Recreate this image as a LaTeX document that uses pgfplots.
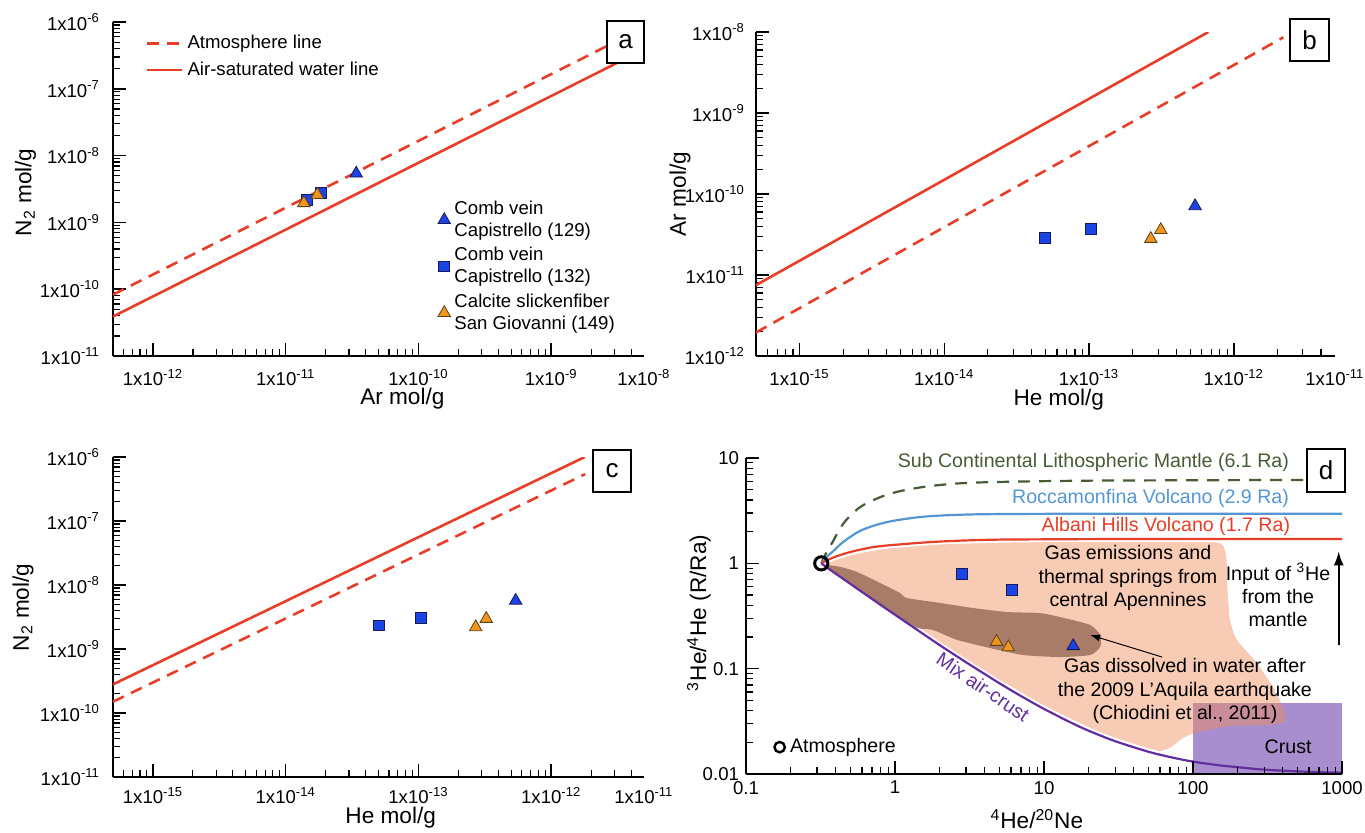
\documentclass[border=0pt]{standalone}
\usepackage{fontspec}
\setmainfont{Liberation Sans}
\usepackage{pgfplots}
\pgfplotsset{compat=1.18}
\usetikzlibrary{arrows.meta}

\definecolor{cred}{RGB}{232,62,40}
\definecolor{cblue}{RGB}{28,68,228}
\definecolor{cbluee}{RGB}{20,25,90}
\definecolor{corange}{RGB}{240,150,30}
\definecolor{corangee}{RGB}{95,65,20}
\definecolor{cgreen}{RGB}{70,92,52}
\definecolor{clblue}{RGB}{85,150,210}
\definecolor{cpurple}{RGB}{100,45,160}
\definecolor{cpeach}{RGB}{240,140,90}
\definecolor{cbrown}{RGB}{168,124,104}
\definecolor{ccrust}{RGB}{168,142,206}

\newcommand{\tfont}{\fontsize{9.3}{11}\selectfont}
\newcommand{\lfont}{\fontsize{11.3}{13}\selectfont}
\newcommand{\dfont}{\fontsize{9.8}{11.6}\selectfont}
\newcommand{\sci}[1]{1x10\textsuperscript{#1}}

\begin{document}
\begin{tikzpicture}
\useasboundingbox (0,0) rectangle (682.5pt,416pt);

% ---------------- panel a ----------------
\begin{axis}[xmode=log, ymode=log, scale only axis, anchor=south west,
  axis x line*=bottom, axis y line*=left,
  axis line style={-, line width=1.2pt, black},
  tick align=inside, major tick length=6.5pt, minor tick length=3.5pt,
  every major tick/.append style={line width=0.8pt, black},
  every minor tick/.append style={line width=0.6pt, black},
  tick label style={font=\tfont},
  xticklabel style={yshift=-3pt}, yticklabel style={xshift=-3pt},
  at={(56.5pt,238pt)}, width=265.5pt, height=167pt,
  xmin=5e-13, xmax=5e-9, ymin=1e-11, ymax=1e-6,
  xtick={1e-12,1e-11,1e-10,1e-9},
  xticklabels={\sci{-12},\sci{-11},\sci{-10},\sci{-9}},
  extra x ticks={4.99e-9}, extra x tick labels={\sci{-8}},
  extra x tick style={major tick length=0pt},
  minor xtick={6e-13,7e-13,8e-13,9e-13,2e-12,3e-12,4e-12,5e-12,6e-12,7e-12,8e-12,9e-12,2e-11,3e-11,4e-11,5e-11,6e-11,7e-11,8e-11,9e-11,2e-10,3e-10,4e-10,5e-10,6e-10,7e-10,8e-10,9e-10,2e-9,3e-9,4e-9},
  ytick={1e-11,1e-10,1e-9,1e-8,1e-7,1e-6},
  yticklabels={\sci{-11},\sci{-10},\sci{-9},\sci{-8},\sci{-7},\sci{-6}},
  minor ytick={2e-11,3e-11,4e-11,5e-11,6e-11,7e-11,8e-11,9e-11,2e-10,3e-10,4e-10,5e-10,6e-10,7e-10,8e-10,9e-10,2e-9,3e-9,4e-9,5e-9,6e-9,7e-9,8e-9,9e-9,2e-8,3e-8,4e-8,5e-8,6e-8,7e-8,8e-8,9e-8,2e-7,3e-7,4e-7,5e-7,6e-7,7e-7,8e-7,9e-7},
  xlabel={Ar mol/g}, ylabel={N\textsubscript{2} mol/g},
  xlabel style={font=\lfont, at={(rel axis cs:0.545,0)}, anchor=center, yshift=-21.5pt},
  ylabel style={font=\lfont, at={([xshift=-43.75pt]rel axis cs:0,0.49)}, anchor=center},
  legend style={at={(rel axis cs:0.05,0.985)}, anchor=north west, draw=none, fill=none, font=\tfont, row sep=1pt, cells={anchor=west}},
  legend image code/.code={\draw[#1] (0pt,0pt) -- (17.5pt,0pt);},
]
\addplot[cred, line width=1.3pt, dash pattern=on 6pt off 4pt] coordinates {(5e-13,8.3e-11) (5e-9,8.3e-7)};
\addlegendentry{Atmosphere line}
\addplot[cred, line width=1.3pt] coordinates {(5e-13,3.9e-11) (5e-9,3.9e-7)};
\addlegendentry{Air-saturated water line}
\addplot[only marks, mark=square*, mark size=2.7pt, mark options={fill=cblue, draw=cbluee, line width=0.4pt}, forget plot] coordinates {(1.44e-11,2.2e-9) (1.83e-11,2.8e-9)};
\addplot[only marks, mark=triangle*, mark size=3.6pt, mark options={fill=corange, draw=corangee, line width=0.4pt}, forget plot] coordinates {(1.37e-11,1.95e-9) (1.73e-11,2.6e-9)};
\addplot[only marks, mark=triangle*, mark size=3.6pt, mark options={fill=cblue, draw=cbluee, line width=0.4pt}, forget plot] coordinates {(3.4e-11,5.4e-9)};
\end{axis}

% marker legend of panel a
\begin{axis}[scale only axis, anchor=south west, at={(56.5pt,238pt)}, width=265.5pt, height=167pt,
  hide axis, xmin=0, xmax=1, ymin=0, ymax=1,
  legend style={at={(rel axis cs:0.6,0.49)}, anchor=north west, draw=none, fill=none, font=\tfont, row sep=0pt, cells={anchor=west, align=left}},
  legend image code/.code={\draw[#1] plot coordinates {(4pt,0pt)};},
]
\addlegendimage{only marks, mark=triangle*, mark size=3.6pt, mark options={fill=cblue, draw=cbluee, line width=0.4pt}}
\addlegendentry{Comb vein\\Capistrello (129)}
\addlegendimage{only marks, mark=square*, mark size=2.7pt, mark options={fill=cblue, draw=cbluee, line width=0.4pt}}
\addlegendentry{Comb vein\\Capistrello (132)}
\addlegendimage{only marks, mark=triangle*, mark size=3.6pt, mark options={fill=corange, draw=corangee, line width=0.4pt}}
\addlegendentry{Calcite slickenfiber\\San Giovanni (149)}
\end{axis}

% ---------------- panel b ----------------
\begin{axis}[xmode=log, ymode=log, scale only axis, anchor=south west,
  axis x line*=bottom, axis y line*=left,
  axis line style={-, line width=1.2pt, black},
  tick align=inside, major tick length=6.5pt, minor tick length=3.5pt,
  every major tick/.append style={line width=0.8pt, black},
  every minor tick/.append style={line width=0.6pt, black},
  tick label style={font=\tfont},
  xticklabel style={yshift=-3pt}, yticklabel style={xshift=-2pt},
  at={(378pt,238pt)}, width=289.5pt, height=162pt,
  xmin=5e-16, xmax=5e-12, ymin=1e-12, ymax=1e-8,
  xtick={1e-15,1e-14,1e-13,1e-12},
  xticklabels={\sci{-15},\sci{-14},\sci{-13},\sci{-12}},
  extra x ticks={4.99e-12}, extra x tick labels={\sci{-11}},
  extra x tick style={major tick length=0pt},
  minor xtick={6e-16,7e-16,8e-16,9e-16,2e-15,3e-15,4e-15,5e-15,6e-15,7e-15,8e-15,9e-15,2e-14,3e-14,4e-14,5e-14,6e-14,7e-14,8e-14,9e-14,2e-13,3e-13,4e-13,5e-13,6e-13,7e-13,8e-13,9e-13,2e-12,3e-12,4e-12},
  ytick={1e-12,1e-11,1e-10,1e-9,1e-8},
  yticklabels={\sci{-12},\sci{-11},\sci{-10},\sci{-9},\sci{-8}},
  minor ytick={2e-12,3e-12,4e-12,5e-12,6e-12,7e-12,8e-12,9e-12,2e-11,3e-11,4e-11,5e-11,6e-11,7e-11,8e-11,9e-11,2e-10,3e-10,4e-10,5e-10,6e-10,7e-10,8e-10,9e-10,2e-9,3e-9,4e-9,5e-9,6e-9,7e-9,8e-9,9e-9},
  xlabel={He mol/g}, ylabel={Ar mol/g},
  xlabel style={font=\lfont, at={(rel axis cs:0.523,0)}, anchor=center, yshift=-22pt},
  ylabel style={font=\lfont, at={([xshift=-38pt]rel axis cs:0,0.5)}, anchor=center},
]
\addplot[cred, line width=1.3pt] coordinates {(5e-16,7.5e-12) (6.67e-13,1e-8)};
\addplot[cred, line width=1.3pt, dash pattern=on 6pt off 4pt] coordinates {(5e-16,1.95e-12) (2.2e-12,8.6e-9)};
\addplot[only marks, mark=square*, mark size=2.7pt, mark options={fill=cblue, draw=cbluee, line width=0.4pt}] coordinates {(4.95e-14,2.9e-11) (1.03e-13,3.7e-11)};
\addplot[only marks, mark=triangle*, mark size=3.6pt, mark options={fill=corange, draw=corangee, line width=0.4pt}] coordinates {(2.67e-13,2.8e-11) (3.13e-13,3.6e-11)};
\addplot[only marks, mark=triangle*, mark size=3.6pt, mark options={fill=cblue, draw=cbluee, line width=0.4pt}] coordinates {(5.4e-13,7.1e-11)};
\end{axis}

% ---------------- panel c ----------------
\begin{axis}[xmode=log, ymode=log, scale only axis, anchor=south west,
  axis x line*=bottom, axis y line*=left,
  axis line style={-, line width=1.2pt, black},
  tick align=inside, major tick length=6.5pt, minor tick length=3.5pt,
  every major tick/.append style={line width=0.8pt, black},
  every minor tick/.append style={line width=0.6pt, black},
  tick label style={font=\tfont},
  xticklabel style={yshift=-1.5pt}, yticklabel style={xshift=-3pt},
  at={(56.5pt,27.5pt)}, width=265.5pt, height=160pt,
  xmin=5e-16, xmax=5e-12, ymin=1e-11, ymax=1e-6,
  xtick={1e-15,1e-14,1e-13,1e-12},
  xticklabels={\sci{-15},\sci{-14},\sci{-13},\sci{-12}},
  extra x ticks={4.99e-12}, extra x tick labels={\sci{-11}},
  extra x tick style={major tick length=0pt},
  minor xtick={6e-16,7e-16,8e-16,9e-16,2e-15,3e-15,4e-15,5e-15,6e-15,7e-15,8e-15,9e-15,2e-14,3e-14,4e-14,5e-14,6e-14,7e-14,8e-14,9e-14,2e-13,3e-13,4e-13,5e-13,6e-13,7e-13,8e-13,9e-13,2e-12,3e-12,4e-12},
  ytick={1e-11,1e-10,1e-9,1e-8,1e-7,1e-6},
  yticklabels={\sci{-11},\sci{-10},\sci{-9},\sci{-8},\sci{-7},\sci{-6}},
  minor ytick={2e-11,3e-11,4e-11,5e-11,6e-11,7e-11,8e-11,9e-11,2e-10,3e-10,4e-10,5e-10,6e-10,7e-10,8e-10,9e-10,2e-9,3e-9,4e-9,5e-9,6e-9,7e-9,8e-9,9e-9,2e-8,3e-8,4e-8,5e-8,6e-8,7e-8,8e-8,9e-8,2e-7,3e-7,4e-7,5e-7,6e-7,7e-7,8e-7,9e-7},
  xlabel={He mol/g}, ylabel={N\textsubscript{2} mol/g},
  xlabel style={font=\lfont, at={(rel axis cs:0.523,0)}, anchor=center, yshift=-20.5pt},
  ylabel style={font=\lfont, at={([xshift=-45pt]rel axis cs:0,0.53)}, anchor=center},
]
\addplot[cred, line width=1.3pt] coordinates {(5e-16,2.8e-10) (1.79e-12,1e-6)};
\addplot[cred, line width=1.3pt, dash pattern=on 6pt off 4pt] coordinates {(5e-16,1.5e-10) (1.8e-12,5.4e-7)};
\addplot[only marks, mark=square*, mark size=2.7pt, mark options={fill=cblue, draw=cbluee, line width=0.4pt}] coordinates {(5.04e-14,2.34e-9) (1.04e-13,3.1e-9)};
\addplot[only marks, mark=triangle*, mark size=3.6pt, mark options={fill=corange, draw=corangee, line width=0.4pt}] coordinates {(2.7e-13,2.2e-9) (3.24e-13,2.97e-9)};
\addplot[only marks, mark=triangle*, mark size=3.6pt, mark options={fill=cblue, draw=cbluee, line width=0.4pt}] coordinates {(5.4e-13,5.7e-9)};
\end{axis}

% ---------------- panel d ----------------
\begin{axis}[xmode=log, ymode=log, scale only axis, anchor=south west,
  axis x line*=bottom, axis y line*=left,
  axis line style={-, line width=1.2pt, black},
  tick align=inside, major tick length=6.5pt, minor tick length=3.5pt,
  every major tick/.append style={line width=0.8pt, black},
  every minor tick/.append style={line width=0.6pt, black},
  tick label style={font=\tfont},
  axis on top, clip=false, at={(373pt,29pt)}, width=298pt, height=158pt,
  xmin=0.1, xmax=1000, ymin=0.01, ymax=10,
  xtick={0.1,1,10,100,1000}, xticklabels={0.1,1,10,100,1000},
  minor xtick={0.2,0.3,0.4,0.5,0.6,0.7,0.8,0.9,2,3,4,5,6,7,8,9,20,30,40,50,60,70,80,90,200,300,400,500,600,700,800,900},
  ytick={0.01,0.1,1,10}, yticklabels={0.01,0.1,1,10},
  minor ytick={0.02,0.03,0.04,0.05,0.06,0.07,0.08,0.09,0.2,0.3,0.4,0.5,0.6,0.7,0.8,0.9,2,3,4,5,6,7,8,9},
  xlabel={\textsuperscript{4}He/\textsuperscript{20}Ne},
  ylabel={\textsuperscript{3}He/\textsuperscript{4}He (R/Ra)},
  xlabel style={font=\lfont, at={(rel axis cs:0.488,0)}, anchor=center, yshift=-22.5pt},
  ylabel style={font=\lfont, at={([xshift=-23.5pt]rel axis cs:0,0.51)}, anchor=center},
  legend style={at={(rel axis cs:0.035,0.085)}, anchor=west, draw=none, fill=none, font=\dfont},
  legend image code/.code={\draw[black, line width=1.2pt] (3pt,0pt) circle (2.6pt);},
]
\addplot[fill=ccrust, draw=none, forget plot] coordinates {(100,0.01) (1000,0.01) (1000,0.047) (100,0.047)};
\addplot[fill=cpeach, fill opacity=0.45, draw=none, smooth, tension=0.3, forget plot] coordinates {
 (0.34,0.97) (0.4,1.07) (0.5,1.19) (0.7,1.31) (1,1.40) (2,1.51) (5,1.57) (10,1.59) (40,1.6) (140,1.58)
 (160,1.45) (168,1.1) (170,0.6) (177,0.29) (197,0.187) (269,0.113) (344,0.067) (402,0.043) (414,0.031)
 (300,0.029) (177,0.0286) (103,0.0245) (86,0.022) (70,0.0177) (60,0.0165)
 (50,0.0176) (30,0.0221) (20,0.0278) (10,0.0448) (5,0.079) (3,0.124) (2,0.18) (1.4,0.255) (1,0.35)
 (0.7,0.50) (0.5,0.69) (0.4,0.86) (0.34,0.97)};
\addplot[fill=cbrown, draw=none, smooth, tension=0.4, forget plot] coordinates {
 (0.34,0.97) (0.43,0.925) (0.556,0.828) (0.793,0.652) (1.08,0.523) (1.2,0.469) (2.0,0.421) (3.33,0.377)
 (5.65,0.345) (9.4,0.337) (13.6,0.303) (20.4,0.26) (23.8,0.209) (23.8,0.161) (20.4,0.135) (12.8,0.129)
 (7.2,0.135) (4.35,0.157) (2.6,0.188) (1.8,0.233) (1.4,0.245) (1.0,0.33) (0.7,0.465) (0.5,0.645)
 (0.4,0.80) (0.34,0.93)};
\addplot[cgreen, line width=1.1pt, dash pattern=on 6pt off 4.5pt, smooth, forget plot] coordinates {
 (0.32,1.0) (0.335,1.15) (0.355,1.35) (0.384,1.62) (0.42,2.05) (0.461,2.49) (0.51,2.9) (0.57,3.34)
 (0.64,3.7) (0.72,4.0) (0.85,4.4) (1.05,4.8) (1.3,5.1) (1.61,5.35) (2.1,5.58) (2.77,5.76) (4,5.88)
 (6.6,5.97) (10,6.03) (22,6.1) (100,6.15) (1000,6.2)};
\addplot[clblue, line width=1.1pt, smooth, forget plot] coordinates {
 (0.32,1.0) (0.35,1.16) (0.384,1.3) (0.45,1.6) (0.57,2.0) (0.7,2.25) (0.82,2.4) (1.0,2.55) (1.43,2.74)
 (2,2.84) (3.55,2.92) (10,2.95) (100,2.96) (1000,2.96)};
\addplot[cred, line width=1.1pt, smooth, forget plot] coordinates {
 (0.32,1.0) (0.35,1.07) (0.4,1.16) (0.5,1.28) (0.6,1.36) (0.7,1.42) (0.85,1.47) (1,1.5) (1.5,1.57)
 (2,1.61) (3,1.65) (5,1.68) (10,1.69) (30,1.7) (1000,1.7)};
\addplot[cpurple, line width=1.1pt, smooth, forget plot] coordinates {
 (0.32,1.0) (0.36,0.885) (0.4,0.797) (0.5,0.64) (0.6,0.535) (0.7,0.46) (0.85,0.38) (1,0.325) (1.5,0.22)
 (2,0.167) (3,0.115) (4,0.089) (5,0.073) (7,0.055) (10,0.0415) (15,0.031) (20,0.0257) (30,0.0205)
 (50,0.0163) (70,0.0145) (100,0.0131) (150,0.0121) (200,0.0116) (300,0.0110) (500,0.0106) (700,0.0104) (1000,0.0103)};
\addplot[only marks, mark=square*, mark size=2.7pt, mark options={fill=cblue, draw=cbluee, line width=0.4pt}, forget plot] coordinates {(2.8,0.79) (6.07,0.558)};
\addplot[only marks, mark=triangle*, mark size=3.6pt, mark options={fill=corange, draw=corangee, line width=0.4pt}, forget plot] coordinates {(4.8,0.18) (5.76,0.16)};
\addplot[only marks, mark=triangle*, mark size=3.6pt, mark options={fill=cblue, draw=cbluee, line width=0.4pt}, forget plot] coordinates {(15.7,0.164)};
\addplot[only marks, mark=o, mark size=3.3pt, mark options={line width=1.5pt, draw=black}, forget plot] coordinates {(0.32,1.0)};
\addlegendimage{black}
\addlegendentry{Atmosphere}
\node[font=\dfont, text=cgreen, anchor=east] at (axis cs:491,9.0) {Sub Continental Lithospheric Mantle (6.1 Ra)};
\node[font=\dfont, text=clblue, anchor=east] at (axis cs:491,4.1) {Roccamonfina Volcano (2.9 Ra)};
\node[font=\dfont, text=cred, anchor=east] at (axis cs:500,2.22) {Albani Hills Volcano (1.7 Ra)};
\node[font=\dfont, align=center] at (axis cs:36.6,0.726) {Gas emissions and\\thermal springs from\\central Apennines};
\node[font=\dfont, align=center] at (axis cs:372,0.50) {Input of \textsuperscript{3}He\\from the\\mantle};
\node[font=\dfont, align=center] at (axis cs:88.3,0.0614) {Gas dissolved in water after\\the 2009 L'Aquila earthquake\\(Chiodini et al., 2011)};
\node[font=\dfont] at (axis cs:435,0.018) {Crust};
\node[font=\dfont, text=cpurple, rotate=-34, inner sep=0pt] at (axis cs:3.9,0.067) {Mix air-crust};
\draw[-{Latex[length=7pt,width=5pt]}, line width=1pt] (axis cs:950,0.168) -- (axis cs:950,1.3);
\draw[-{Latex[length=5pt,width=3.5pt]}, line width=0.5pt] (axis cs:62,0.129) -- (axis cs:20.4,0.209);
\end{axis}

\node[draw, line width=1pt, fill=white, minimum width=18.5pt, minimum height=21pt, inner sep=0pt, font=\fontsize{13}{15}\selectfont] at (312.75pt,395pt) {a};
\node[draw, line width=1pt, fill=white, minimum width=19.5pt, minimum height=21pt, inner sep=0pt, font=\fontsize{13}{15}\selectfont] at (654.75pt,396pt) {b};
\node[draw, line width=1pt, fill=white, minimum width=19pt, minimum height=21pt, inner sep=0pt, font=\fontsize{13}{15}\selectfont] at (306pt,180.5pt) {c};
\node[draw, line width=1pt, fill=white, minimum width=19pt, minimum height=21.5pt, inner sep=0pt, font=\fontsize{13}{15}\selectfont] at (663pt,180.75pt) {d};
\end{tikzpicture}
\end{document}
